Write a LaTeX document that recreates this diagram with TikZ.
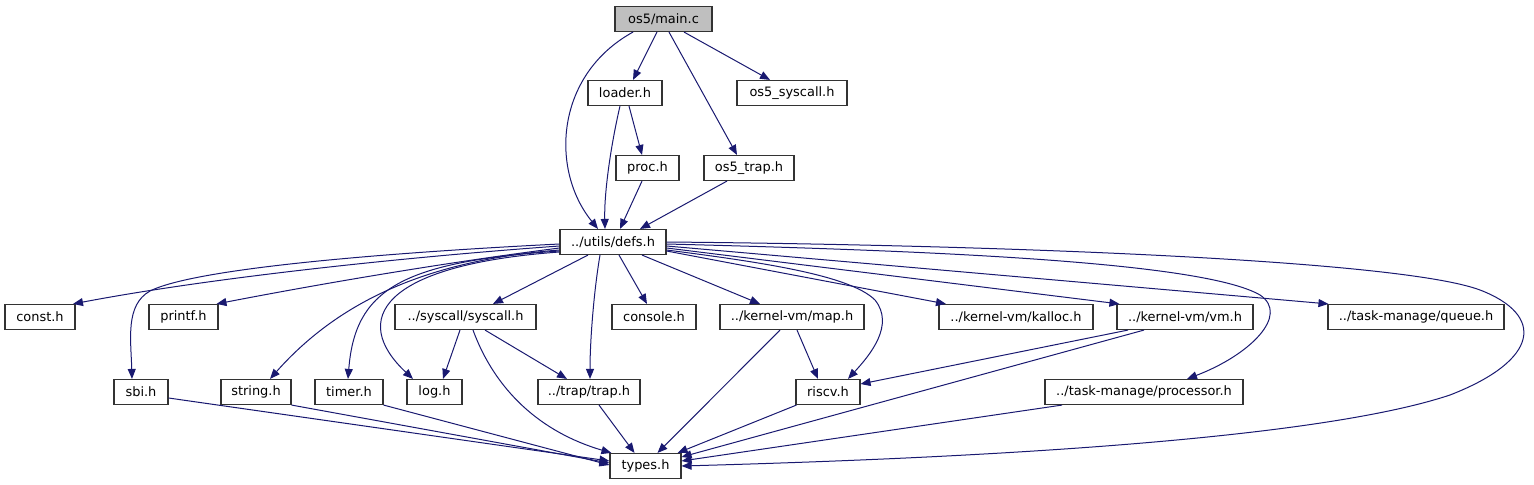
\documentclass[tikz,border=0pt]{standalone}
\usepackage{fontspec}
\setmainfont{DejaVu Sans}
\usetikzlibrary{arrows.meta,calc}
\definecolor{edgec}{HTML}{191970}
\definecolor{nodeb}{HTML}{333333}
\definecolor{mainfill}{HTML}{BFBFBF}
\begin{document}
\begin{tikzpicture}[x=0.75pt,y=-0.75pt,
  file/.style={draw=nodeb,line width=0.85pt,fill=white,minimum height=18.75pt,inner sep=0pt,font=\fontsize{9.7}{11}\selectfont},
  dep/.style={draw=edgec,line width=0.75pt,-{Triangle[length=7.5pt,width=6pt]}}]
\useasboundingbox (0,0) rectangle (1534,485);
% nodes
\node[file,fill=mainfill,minimum width=72.75pt] (main) at (663.5,19) {os5/main.c};
\node[file,minimum width=55.5pt] (loader) at (625,93) {loader.h};
\node[file,minimum width=82.5pt] (os5sys) at (792,93) {os5\_syscall.h};
\node[file,minimum width=47.25pt] (proc) at (647.5,168) {proc.h};
\node[file,minimum width=67.5pt] (os5trap) at (749,168) {os5\_trap.h};
\node[file,minimum width=79.5pt] (defs) at (613,242) {../utils/defs.h};
\node[file,minimum width=52.5pt] (const) at (40,317) {const.h};
\node[file,minimum width=51.75pt] (printf) at (183.5,317) {printf.h};
\node[file,minimum width=105.75pt] (syscall) at (465.5,317) {../syscall/syscall.h};
\node[file,minimum width=63pt] (console) at (654,317) {console.h};
\node[file,minimum width=108pt] (map) at (792,317) {../kernel-vm/map.h};
\node[file,minimum width=115.5pt] (kalloc) at (1016,317) {../kernel-vm/kalloc.h};
\node[file,minimum width=102pt] (vm) at (1185,317) {../kernel-vm/vm.h};
\node[file,minimum width=132pt] (queue) at (1416,317) {../task-manage/queue.h};
\node[file,minimum width=40.5pt] (sbi) at (141,392) {sbi.h};
\node[file,minimum width=52.5pt] (string) at (256,392) {string.h};
\node[file,minimum width=51pt] (timer) at (349,392) {timer.h};
\node[file,minimum width=41.25pt] (log) at (434.5,392) {log.h};
\node[file,minimum width=76.5pt] (trap) at (589,392) {../trap/trap.h};
\node[file,minimum width=48pt] (riscv) at (828,392) {riscv.h};
\node[file,minimum width=148.5pt] (processor) at (1144,392) {../task-manage/processor.h};
\node[file,minimum width=53.25pt] (types) at (645.5,466) {types.h};
% edges from main.c
\draw[dep] ($(main.south)+(-30.5,0)$) .. controls (555,75) and (550,170) .. ($(defs.north)+(-15,0)$);
\draw[dep] ($(main.south)+(-6.5,0)$) -- ($(loader.north)+(8,0)$);
\draw[dep] ($(main.south)+(5.5,0)$) -- ($(os5trap.north)+(-12,0)$);
\draw[dep] ($(main.south)+(20.5,0)$) -- ($(os5sys.north)+(-22,0)$);
% loader, proc, os5_trap
\draw[dep] ($(loader.south)+(4,0)$) -- ($(proc.north)+(-5.5,0)$);
\draw[dep] ($(loader.south)+(-5,0)$) .. controls (612,140) and (604,190) .. ($(defs.north)+(-8,0)$);
\draw[dep] ($(proc.south)+(-5.5,0)$) -- ($(defs.north)+(7,0)$);
\draw[dep] ($(os5trap.south)+(-22,0)$) -- ($(defs.north)+(27,0)$);
% defs.h to the left
\draw[dep] ($(defs.west)+(0,4)$) .. controls (420,256) and (220,276) .. ($(const.north)+(33,0)$);
\draw[dep] ($(defs.west)+(0,6)$) .. controls (450,262) and (330,282) .. ($(printf.north)+(33,0)$);
\draw[dep] ($(defs.west)+(0,2)$) .. controls (420,251) and (200,266) .. (150,291) .. controls (125,305) and (131,340) .. ($(sbi.north)+(-9,0)$);
\draw[dep] ($(defs.west)+(0,8)$) .. controls (430,260) and (340,300) .. ($(string.north)+(14,0)$);
\draw[dep] ($(defs.west)+(0,9)$) .. controls (400,262) and (355,290) .. ($(timer.north)+(-1,0)$);
\draw[dep] ($(defs.west)+(0,10)$) .. controls (380,265) and (350,320) .. ($(log.north)+(-21.5,0)$);
% defs.h downwards
\draw[dep] ($(defs.south)+(-25,0)$) -- ($(syscall.north)+(27.5,0)$);
\draw[dep] ($(defs.south)+(-13,0)$) .. controls (594,290) and (590,340) .. ($(trap.north)+(1,0)$);
\draw[dep] ($(defs.south)+(6,0)$) -- ($(console.north)+(-7,0)$);
\draw[dep] ($(defs.south)+(29,0)$) -- ($(map.north)+(-32,0)$);
% defs.h to the right
\draw[dep] ($(defs.east)+(0,8)$) .. controls (760,262) and (850,275) .. (875,300) .. controls (895,325) and (870,355) .. ($(riscv.north)+(20,0)$);
\draw[dep] ($(defs.east)+(0,9)$) -- ($(kalloc.north)+(-70,0)$);
\draw[dep] ($(defs.east)+(0,6)$) -- ($(vm.north west)+(3,0)$);
\draw[dep] ($(defs.east)+(0,4)$) -- ($(queue.north west)+(1,0)$);
\draw[dep] ($(defs.east)+(0,2)$) .. controls (900,250) and (1200,260) .. (1260,295) .. controls (1290,315) and (1250,355) .. ($(processor.north)+(43,0)$);
\draw[dep] ($(defs.east)+(0,0)$) .. controls (1000,245) and (1400,260) .. (1480,290) .. controls (1545,315) and (1540,360) .. (1450,395) .. controls (1300,445) and (900,460) .. ($(types.east)+(0,0)$);
% syscall.h
\draw[dep] ($(syscall.south)+(-5.5,0)$) -- ($(log.north)+(8.5,0)$);
\draw[dep] ($(syscall.south)+(19.5,0)$) -- ($(trap.north)+(-22,0)$);
\draw[dep] ($(syscall.south)+(7.5,0)$) .. controls (495,390) and (540,432) .. ($(types.north west)+(2,0)$);
% map, vm, riscv, processor
\draw[dep] ($(map.south)+(5,0)$) -- ($(riscv.north)+(-10,0)$);
\draw[dep] ($(map.south)+(-12,0)$) -- ($(types.north)+(12,0)$);
\draw[dep] ($(vm.south)+(-57,0)$) -- ($(riscv.east)+(0,-8)$);
\draw[dep] ($(vm.south)+(-41,0)$) -- ($(types.east)+(0,-9)$);
\draw[dep] ($(riscv.south west)+(1,0)$) -- ($(types.north east)+(-4,0)$);
\draw[dep] ($(processor.south)+(-82,0)$) -- ($(types.east)+(0,-5)$);
% bottom row into types.h
\draw[dep] ($(sbi.east)+(0,6)$) -- ($(types.west)+(0,-5)$);
\draw[dep] ($(string.south east)+(0,0)$) -- ($(types.west)+(0,-3)$);
\draw[dep] ($(timer.south east)+(0,0)$) -- ($(types.west)+(0,-1)$);
\draw[dep] ($(trap.south)+(10,0)$) -- ($(types.north)+(-11,0)$);
\end{tikzpicture}
\end{document}
